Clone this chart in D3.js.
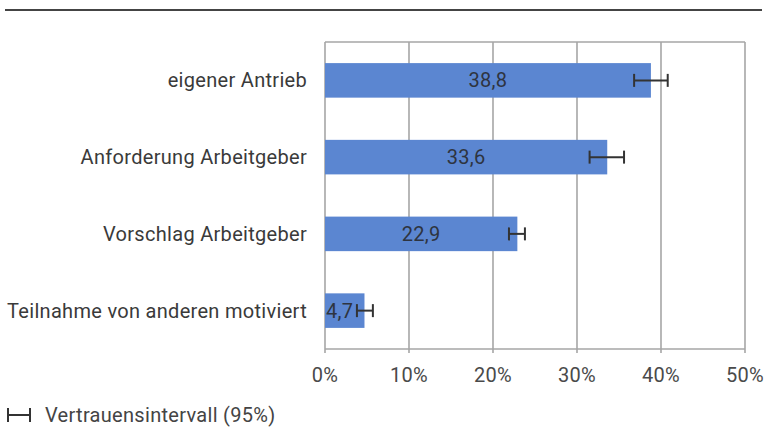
<!DOCTYPE html>
<html>
<head>
<meta charset="utf-8">
<script src="https://cdn.jsdelivr.net/npm/d3@7"></script>
<style>
  body { margin: 0; background: #fff; }
  text { font-family: Roboto, "Noto Sans", sans-serif; letter-spacing: 0.3px; }
</style>
</head>
<body>
<svg id="chart" width="766" height="432"></svg>
<script>
// data
const categories = ["eigener Antrieb", "Anforderung Arbeitgeber", "Vorschlag Arbeitgeber", "Teilnahme von anderen motiviert"];
const values = [38.8, 33.6, 22.9, 4.7];
const ciLow = [36.8, 31.5, 21.9, 3.8];
const ciHigh = [40.8, 35.6, 23.8, 5.7];
const xTicks = [0, 10, 20, 30, 40, 50];
const legendText = "Vertrauensintervall (95%)";

const svg = d3.select('#chart');
const plotL = 325, plotR = 745, plotT = 42, plotB = 349;
const grid = '#a6a6a6';

// top rule
svg.append('line').attr('x1', 5).attr('x2', 762).attr('y1', 10).attr('y2', 10)
  .attr('stroke', '#444').attr('stroke-width', 2);

const x = d3.scaleLinear().domain([0, 50]).range([plotL, plotR]);
const y = d3.scaleBand().domain(categories).range([plotT, plotB]).paddingInner(0.55).paddingOuter(0.275);

const g = svg.append('g');

// gridlines
g.selectAll('.grid').data(xTicks).enter().append('line')
  .attr('x1', d => x(d)).attr('x2', d => x(d))
  .attr('y1', plotT).attr('y2', plotB + 4)
  .attr('stroke', grid).attr('stroke-width', 1.6);
// top border and bottom axis
g.append('line').attr('x1', plotL).attr('x2', plotR).attr('y1', plotT).attr('y2', plotT)
  .attr('stroke', grid).attr('stroke-width', 1.6);
g.append('line').attr('x1', plotL).attr('x2', plotR).attr('y1', plotB).attr('y2', plotB)
  .attr('stroke', grid).attr('stroke-width', 1.6);

// tick labels
g.selectAll('.tick').data(xTicks).enter().append('text')
  .attr('x', d => x(d)).attr('y', 382)
  .attr('text-anchor', 'middle').attr('font-size', 20).attr('fill', '#4a4a4a')
  .text(d => d + '%');

// bars
g.selectAll('.bar').data(values).enter().append('rect')
  .attr('x', x(0)).attr('y', (d, i) => y(categories[i]))
  .attr('width', d => x(d) - x(0)).attr('height', y.bandwidth())
  .attr('fill', '#5b86d1');

// category labels
g.selectAll('.cat').data(categories).enter().append('text')
  .attr('x', 307).attr('y', d => y(d) + y.bandwidth() / 2)
  .attr('dy', '0.35em').attr('text-anchor', 'end')
  .attr('font-size', 20).attr('fill', '#3a3a3a')
  .text(d => d);

// value labels
const fmt = v => v.toFixed(1).replace('.', ',');
g.selectAll('.val').data(values).enter().append('text')
  .attr('x', d => d < 8 ? x(0) + 1 : (x(0) + x(d)) / 2)
  .attr('y', (d, i) => y(categories[i]) + y.bandwidth() / 2)
  .attr('dy', '0.35em').attr('text-anchor', d => d < 8 ? 'start' : 'middle')
  .attr('font-size', 20).attr('fill', '#2e3440')
  .text(fmt);

// error bars
const eb = g.selectAll('.eb').data(values).enter().append('g')
  .attr('stroke', '#333').attr('stroke-width', 2);
eb.append('line')
  .attr('x1', (d, i) => x(ciLow[i])).attr('x2', (d, i) => x(ciHigh[i]))
  .attr('y1', (d, i) => y(categories[i]) + y.bandwidth() / 2)
  .attr('y2', (d, i) => y(categories[i]) + y.bandwidth() / 2);
[ciLow, ciHigh].forEach(arr => {
  eb.append('line')
    .attr('x1', (d, i) => x(arr[i])).attr('x2', (d, i) => x(arr[i]))
    .attr('y1', (d, i) => y(categories[i]) + y.bandwidth() / 2 - 6.5)
    .attr('y2', (d, i) => y(categories[i]) + y.bandwidth() / 2 + 6.5);
});

// legend
const lg = svg.append('g').attr('stroke', '#333').attr('stroke-width', 2);
lg.append('line').attr('x1', 8).attr('x2', 30).attr('y1', 415).attr('y2', 415);
lg.append('line').attr('x1', 8).attr('x2', 8).attr('y1', 408).attr('y2', 422);
lg.append('line').attr('x1', 30).attr('x2', 30).attr('y1', 408).attr('y2', 422);
svg.append('text').attr('x', 45).attr('y', 415).attr('dy', '0.35em')
  .attr('font-size', 20).attr('fill', '#444').text(legendText);
</script>
</body>
</html>
